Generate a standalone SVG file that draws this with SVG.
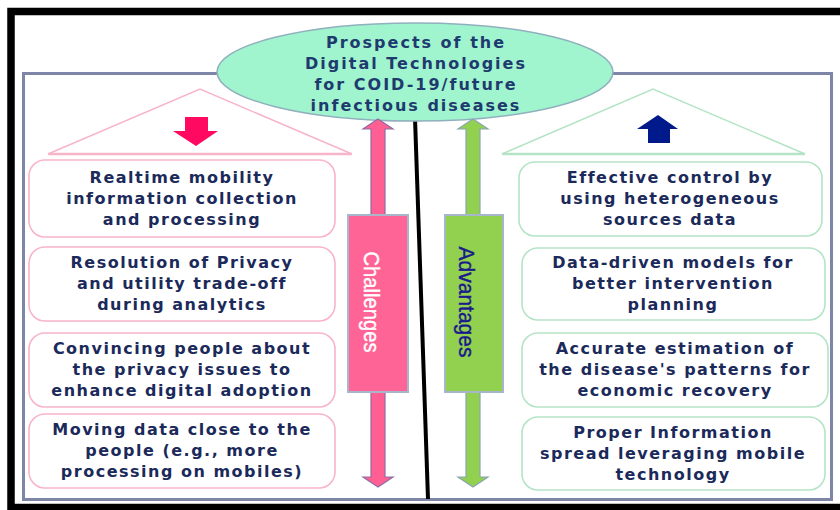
<svg xmlns="http://www.w3.org/2000/svg" width="840" height="510" viewBox="0 0 840 510">
<defs>
<style>
.frame{fill:#ffffff;stroke:#000000;stroke-width:7.5}
.panel{fill:#ffffff;stroke:#7d86a6;stroke-width:3}
.cbox{fill:#ffffff;stroke:#f8b4c8;stroke-width:1.6}
.abox{fill:#ffffff;stroke:#b4e4c6;stroke-width:1.6}
.t{font-family:"DejaVu Sans",Verdana,sans-serif;font-weight:bold;font-size:16px;letter-spacing:1.5px;fill:#1b2a5a;text-anchor:middle}
.et{font-family:"DejaVu Sans",Verdana,sans-serif;font-weight:bold;font-size:16px;letter-spacing:2px;fill:#1e3a6e;text-anchor:middle}
.lab{font-family:"Liberation Sans",Arial,sans-serif;font-size:22px;text-anchor:middle;stroke-width:0.4}
</style>
</defs>
<rect class="frame" x="11" y="11.5" width="840" height="496"/>
<rect class="panel" x="23.5" y="73.5" width="808" height="426"/>

<g id="center-line">
<line x1="415" y1="118" x2="428" y2="499" stroke="#000" stroke-width="4"/>
</g>

<g id="title">
<ellipse cx="415" cy="72" rx="198" ry="49" fill="#a0f5cf" stroke="#8fb0bc" stroke-width="1.5"/>
<text class="et" x="416" y="48">Prospects of the</text>
<text class="et" x="416" y="69">Digital Technologies</text>
<text class="et" x="416" y="90">for COID-19/future</text>
<text class="et" x="416" y="111">infectious diseases</text>
</g>

<g id="challenges-header">
<polyline points="48,154 200,89 352,154" fill="none" stroke="#f8b4c8" stroke-width="1.5"/>
<line x1="48" y1="154" x2="352" y2="154" stroke="#f8b4c8" stroke-width="2.5"/>
<polygon points="185,117 208,117 208,131 218,131 196,146 173,131 185,131" fill="#ff0a60"/>
</g>

<g id="advantages-header">
<polyline points="502,154 653,89 805,154" fill="none" stroke="#b4e4c6" stroke-width="1.5"/>
<line x1="502" y1="154" x2="805" y2="154" stroke="#b4e4c6" stroke-width="2.5"/>
<polygon points="658,115 678,129 670,129 670,143 648,143 648,129 637,129" fill="#001a8c"/>
</g>

<g id="connectors">
<g id="challenges-arrow">
<polygon points="378,119 393,129 385,129 385,215 371,215 371,129 363,129" fill="#ff5f93" stroke="#8f6ca4" stroke-width="1.2"/>
<polygon points="371,392 385,392 385,477 393,477 378,487 363,477 371,477" fill="#ff5f93" stroke="#8f6ca4" stroke-width="1.2"/>
</g>
<g id="advantages-arrow">
<polygon points="473,119 488,129 480,129 480,215 466,215 466,129 458,129" fill="#92d050" stroke="#8aa6b0" stroke-width="1.2"/>
<polygon points="466,392 480,392 480,477 488,477 473,487 458,477 466,477" fill="#92d050" stroke="#8aa6b0" stroke-width="1.2"/>
</g>
</g>

<g id="challenges-label">
<rect x="348" y="215" width="60" height="177" fill="#ff6496" stroke="#a8b6cc" stroke-width="2"/>
<text class="lab" transform="translate(371,302) rotate(90)" x="0" y="7.5" fill="#ffffff" stroke="#ffffff" textLength="101" lengthAdjust="spacingAndGlyphs">Challenges</text>
</g>

<g id="advantages-label">
<rect x="445" y="215" width="58" height="177" fill="#92d050" stroke="#a8b6cc" stroke-width="2"/>
<text class="lab" transform="translate(466,302) rotate(90)" x="0" y="7.5" fill="#1a1a8a" stroke="#1a1a8a" textLength="111" lengthAdjust="spacingAndGlyphs">Advantages</text>
</g>

<g id="c1">
<rect class="cbox" x="29" y="160" width="306" height="77" rx="16"/>
<text class="t" x="182" y="183">Realtime mobility</text>
<text class="t" x="182" y="204">information collection</text>
<text class="t" x="182" y="225">and processing</text>
</g>
<g id="c2">
<rect class="cbox" x="29" y="247" width="306" height="74" rx="16"/>
<text class="t" x="182" y="268">Resolution of Privacy</text>
<text class="t" x="182" y="289">and utility trade-off</text>
<text class="t" x="182" y="310">during analytics</text>
</g>
<g id="c3">
<rect class="cbox" x="29" y="333" width="306" height="74" rx="16"/>
<text class="t" x="182" y="354">Convincing people about</text>
<text class="t" x="182" y="375">the privacy issues to</text>
<text class="t" x="182" y="396">enhance digital adoption</text>
</g>
<g id="c4">
<rect class="cbox" x="29" y="414" width="306" height="74" rx="16"/>
<text class="t" x="182" y="435">Moving data close to the</text>
<text class="t" x="182" y="456">people (e.g., more</text>
<text class="t" x="182" y="477">processing on mobiles)</text>
</g>

<g id="a1">
<rect class="abox" x="519" y="162" width="303" height="74" rx="16"/>
<text class="t" x="670" y="183">Effective control by</text>
<text class="t" x="670" y="204">using heterogeneous</text>
<text class="t" x="670" y="225">sources data</text>
</g>
<g id="a2">
<rect class="abox" x="522" y="248" width="303" height="72" rx="16"/>
<text class="t" x="673" y="268">Data-driven models for</text>
<text class="t" x="673" y="289">better intervention</text>
<text class="t" x="673" y="310">planning</text>
</g>
<g id="a3">
<rect class="abox" x="522" y="333" width="306" height="74" rx="16"/>
<text class="t" x="675" y="354">Accurate estimation of</text>
<text class="t" x="675" y="375">the disease's patterns for</text>
<text class="t" x="675" y="396">economic recovery</text>
</g>
<g id="a4">
<rect class="abox" x="522" y="417" width="303" height="73" rx="16"/>
<text class="t" x="673" y="438">Proper Information</text>
<text class="t" x="673" y="459">spread leveraging mobile</text>
<text class="t" x="673" y="480">technology</text>
</g>
</svg>
